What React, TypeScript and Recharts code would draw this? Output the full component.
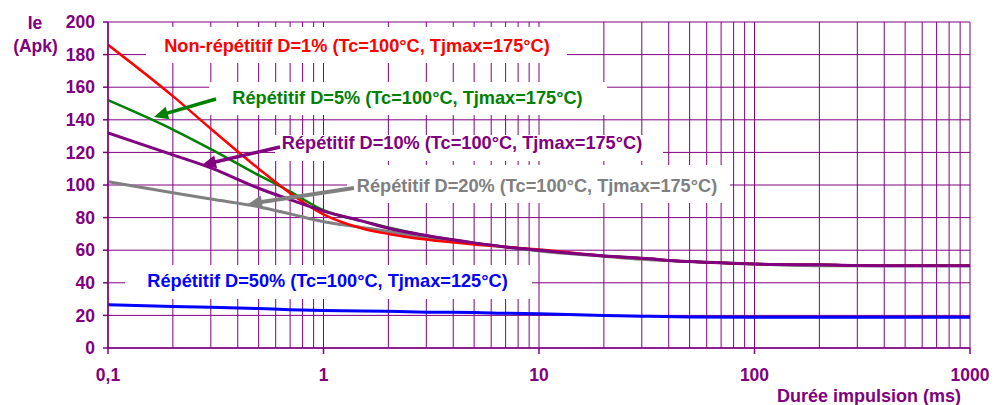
import React from 'react';
import { LineChart, Line, XAxis, YAxis, CartesianGrid } from 'recharts';

// ---- data ----
const durations = [0.1, 0.2, 0.3, 0.5, 0.7, 1, 1.5, 2, 3, 5, 7, 10, 20, 30, 50, 100, 200, 500, 1000];
const nonRep1 = [186, 154.5, 134.5, 110, 95, 82, 73.5, 70, 66.5, 63.5, 62, 60.5, 56.5, 55, 53, 51.5, 51, 50.5, 50.5];
const rep5 = [152, 134, 122, 106, 96, 84.5, 78, 74, 69, 64.5, 62, 60, 56.5, 55, 53, 51.5, 51, 50.5, 50.5];
const rep10 = [132, 118.5, 110.5, 98, 91, 84, 78, 73.5, 69, 64.5, 62, 60, 56.5, 55, 53, 51.5, 51, 50.5, 50.5];
const rep20 = [102, 95.3, 91.4, 86.7, 82.3, 77.5, 74, 71.5, 67.5, 64, 62, 59.5, 56.3, 54.5, 53, 51.5, 50.5, 50.5, 50.5];
const rep50 = [26.5, 25.5, 25, 24.2, 23.5, 23, 22.7, 22.5, 22, 21.8, 21.3, 21, 20, 19.5, 19, 18.8, 18.8, 18.8, 18.8];

const xMajorTicks = [0.1, 1, 10, 100, 1000];
const xMinorTicks = [
  0.1, 0.2, 0.3, 0.4, 0.5, 0.6, 0.7, 0.8, 0.9,
  1, 2, 3, 4, 5, 6, 7, 8, 9,
  10, 20, 30, 40, 50, 60, 70, 80, 90,
  100, 200, 300, 400, 500, 600, 700, 800, 900, 1000,
];
const yTicks = [0, 20, 40, 60, 80, 100, 120, 140, 160, 180, 200];

const seriesLabels = {
  d1: 'Non-répétitif D=1% (Tc=100°C, Tjmax=175°C)',
  d5: 'Répétitif D=5% (Tc=100°C, Tjmax=175°C)',
  d10: 'Répétitif D=10% (Tc=100°C, Tjmax=175°C)',
  d20: 'Répétitif D=20% (Tc=100°C, Tjmax=175°C)',
  d50: 'Répétitif D=50% (Tc=100°C, Tjmax=125°C)',
};

const rows = durations.map((t, i) => ({
  t,
  d1: nonRep1[i],
  d5: rep5[i],
  d10: rep10[i],
  d20: rep20[i],
  d50: rep50[i],
}));

// ---- style ----
const FONT = '"Liberation Sans", Arial, sans-serif';
const PURPLE = '#800080';
const W = 1003;
const H = 405;
const PLOT = { left: 108, top: 22, right: 970, bottom: 348 };

const fmtX = (v: number) => String(v).replace('.', ',');

const manualX = (v: number) =>
  PLOT.left + ((Math.log10(v) + 1) / 4) * (PLOT.right - PLOT.left);

type Note = {
  key: keyof typeof seriesLabels;
  color: string;
  box: [number, number, number, number];
  tx: number;
  ty: number;
  arrow?: [number, number, number, number];
  aw?: number;
};

const notes: Note[] = [
  { key: 'd1', color: '#FF0000', box: [146, 27, 567, 63], tx: 357, ty: 51.5 },
  { key: 'd5', color: '#008000', box: [209, 82, 607, 115], tx: 407.5, ty: 104, arrow: [216, 99, 154, 117], aw: 3.5 },
  { key: 'd10', color: PURPLE, box: [275, 135, 663, 161], tx: 462, ty: 149, arrow: [280, 147, 202, 165], aw: 3.5 },
  { key: 'd20', color: '#808080', box: [347, 165, 730, 203], tx: 537, ty: 191.5, arrow: [354, 188, 248, 204], aw: 4 },
  { key: 'd50', color: '#0000FF', box: [125, 265, 532, 299], tx: 327.5, ty: 287 },
];

function Arrow({ a, color, w }: { a: [number, number, number, number]; color: string; w: number }) {
  const [x1, y1, x2, y2] = a;
  const dx = x2 - x1;
  const dy = y2 - y1;
  const len = Math.sqrt(dx * dx + dy * dy);
  const ux = dx / len;
  const uy = dy / len;
  const hl = 14;
  const hw = 6.5;
  const bx = x2 - ux * hl;
  const by = y2 - uy * hl;
  const px = -uy;
  const py = ux;
  return (
    <g>
      <line x1={x1} y1={y1} x2={bx + ux * 2} y2={by + uy * 2} stroke={color} strokeWidth={w} />
      <polygon
        points={`${x2},${y2} ${bx + px * hw},${by + py * hw} ${bx - px * hw},${by - py * hw}`}
        fill={color}
      />
    </g>
  );
}

function Overlay() {
  return (
    <svg
      width={W}
      height={H}
      style={{ position: 'absolute', left: 0, top: 0, pointerEvents: 'none' }}
    >
      {notes.map((n) => (
        <rect
          key={'b' + n.key}
          x={n.box[0]}
          y={n.box[1]}
          width={n.box[2] - n.box[0]}
          height={n.box[3] - n.box[1]}
          fill="#FFFFFF"
        />
      ))}
      {notes.map((n) =>
        n.arrow ? <Arrow key={'a' + n.key} a={n.arrow} color={n.color} w={n.aw || 3.5} /> : null
      )}
      {notes.map((n) => (
        <text
          key={'t' + n.key}
          x={n.tx}
          y={n.ty}
          textAnchor="middle"
          fill={n.color}
          fontFamily={FONT}
          fontWeight="bold"
          fontSize={18.2}
        >
          {seriesLabels[n.key]}
        </text>
      ))}
      <text x={35} y={28.5} textAnchor="middle" fill={PURPLE} fontFamily={FONT} fontWeight="bold" fontSize={17.5}>
        Ie
      </text>
      <text x={35.5} y={51.7} textAnchor="middle" fill={PURPLE} fontFamily={FONT} fontWeight="bold" fontSize={17.5}>
        (Apk)
      </text>
      <text x={869} y={401.5} textAnchor="middle" fill={PURPLE} fontFamily={FONT} fontWeight="bold" fontSize={18}>
        Durée impulsion (ms)
      </text>
    </svg>
  );
}

export default function App() {
  const tickStyle = { fill: PURPLE, fontSize: 17.5, fontWeight: 'bold' as const, fontFamily: FONT };
  return (
    <div style={{ position: 'absolute', left: 0, top: 0, width: W, height: H, background: '#fff' }}>
      <LineChart
        width={W}
        height={H}
        data={rows}
        margin={{ top: PLOT.top, right: W - PLOT.right, bottom: 0, left: 0 }}
      >
        <CartesianGrid
          stroke={PURPLE}
          strokeWidth={1}
          horizontal={true}
          vertical={true}
          verticalCoordinatesGenerator={(props: any) => {
            const sc = props && props.xAxis && props.xAxis.scale;
            return xMinorTicks.map((v) => (typeof sc === 'function' ? sc(v) : manualX(v)));
          }}
        />
        <XAxis
          dataKey="t"
          type="number"
          scale="log"
          domain={[0.1, 1000]}
          ticks={xMajorTicks}
          interval={0}
          tickFormatter={fmtX}
          height={H - PLOT.bottom}
          tickSize={6}
          tickMargin={15}
          tick={tickStyle}
          axisLine={{ stroke: PURPLE, strokeWidth: 1.5 }}
          tickLine={{ stroke: PURPLE, strokeWidth: 1.5 }}
          allowDataOverflow
        />
        <YAxis
          type="number"
          domain={[0, 200]}
          ticks={yTicks}
          interval={0}
          width={PLOT.left}
          tickSize={5}
          tickMargin={8}
          tick={tickStyle}
          axisLine={{ stroke: PURPLE, strokeWidth: 1.5 }}
          tickLine={{ stroke: PURPLE, strokeWidth: 1.5 }}
          allowDataOverflow
        />
        <Line dataKey="d50" type="monotone" stroke="#0000FF" strokeWidth={3} dot={false} isAnimationActive={false} />
        <Line dataKey="d20" type="monotone" stroke="#808080" strokeWidth={3} dot={false} isAnimationActive={false} />
        <Line dataKey="d5" type="monotone" stroke="#008000" strokeWidth={2.5} dot={false} isAnimationActive={false} />
        <Line dataKey="d1" type="monotone" stroke="#FF0000" strokeWidth={2.5} dot={false} isAnimationActive={false} />
        <Line dataKey="d10" type="monotone" stroke={PURPLE} strokeWidth={3} dot={false} isAnimationActive={false} />
      </LineChart>
      <Overlay />
    </div>
  );
}
